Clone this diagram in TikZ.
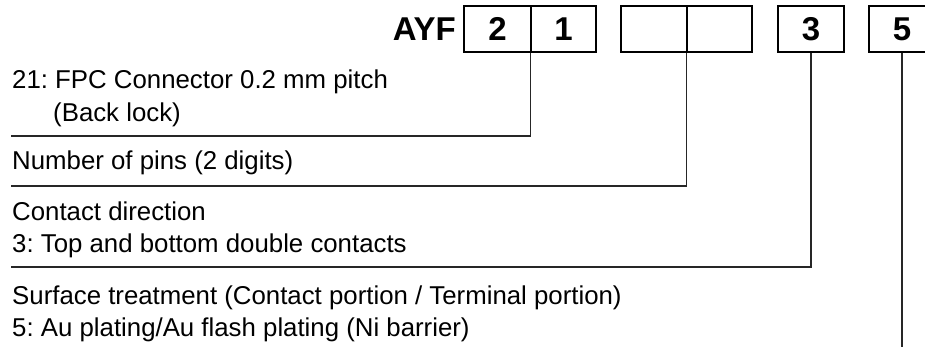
\documentclass[tikz,border=0pt]{standalone}
\usepackage{fontspec}
\setmainfont{Liberation Sans}
\frenchspacing
\begin{document}
\begin{tikzpicture}[x=1pt,y=-1pt,
  cell/.style={draw=black,line width=1.3pt,minimum height=46pt,inner sep=0pt,font=\fontsize{33}{38}\selectfont\bfseries},
  lead/.style={draw=black!85,line width=1.4pt},
  desc/.style={anchor=base west,inner sep=0pt,font=\fontsize{25.8}{30}\selectfont}]
\clip (0,0) rectangle (925,347);
\fill[white] (0,0) rectangle (925,347);
% code boxes
\node[anchor=base east,inner sep=0pt,font=\fontsize{33}{38}\selectfont\bfseries] (ayf) at (456,41) {AYF};
\node[cell,minimum width=67pt] (c2) at (497.5,29) {2};
\node[cell,minimum width=65pt] (c1) at (563.5,29) {1};
\node[cell,minimum width=66pt] (p1) at (654,29) {};
\node[cell,minimum width=65pt] (p2) at (719.5,29) {};
\node[cell,minimum width=66pt] (c3) at (811,29) {3};
\node[cell,minimum width=66pt] (c5) at (902,29) {5};
% descriptions
\node[desc] (t1) at (12,89) {21: FPC Connector 0.2 mm pitch};
\node[desc] (t1b) at (53,122) {(Back lock)};
\node[desc] (t2) at (12,170) {Number of pins (2 digits)};
\node[desc] (t3) at (12,221) {Contact direction};
\node[desc] (t3b) at (12,252) {3: Top and bottom double contacts};
\node[desc] (t4) at (12,304) {Surface treatment (Contact portion / Terminal portion)};
\node[desc] (t4b) at (12,336) {5: Au plating/Au flash plating (Ni barrier)};
% leader ends
\coordinate (e1) at (11,136);
\coordinate (e2) at (11,186);
\coordinate (e3) at (11,267);
\coordinate (e4) at (902,347);
\draw[lead] (c1.south west) |- (e1);
\draw[lead] (p2.south west) |- (e2);
\draw[lead] (c3.south) |- (e3);
\draw[lead] (c5.south) -- (e4);
\end{tikzpicture}
\end{document}
